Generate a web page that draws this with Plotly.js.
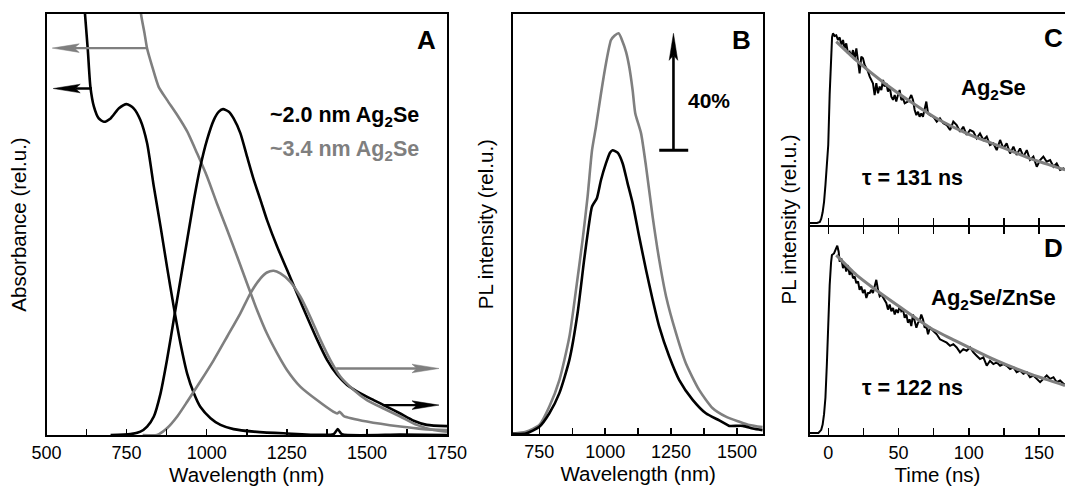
<!DOCTYPE html>
<html><head><meta charset="utf-8">
<script src="https://cdn.plot.ly/plotly-3.0.1.min.js"></script>
<style>html,body{margin:0;padding:0;background:#fff}#chart{width:1065px;height:489px}</style>
</head><body><div id="chart"></div><script>
// ---------- Panel A: absorbance + PL (arbitrary units 0-100) ----------
const absSmallWl = [615,629,637,648,663,679,700,726,750,772,793,814,835,856,876,897,918,939,960,980,1012,1043,1084,1147,1240,1396,1409,1422,1604,1750];
const absSmallVal = [105,91.4,82.7,78.0,75.2,74.4,75.2,77.6,78.6,77.6,74.8,69.3,59.0,49.5,40.0,30.5,21.8,14.6,9.9,6.7,4.0,2.4,1.4,0.8,0.4,0.2,1.4,0.2,0.1,0];
const absLargeWl = [790,795,806,814,830,850,876,908,939,970,1001,1032,1064,1095,1126,1157,1188,1220,1251,1292,1344,1396,1407,1415,1428,1500,1604,1677,1750];
const absLargeVal = [106,100,95.4,91.8,87.5,82.7,79.6,76.0,72.1,66.9,61.4,55.0,48.7,42.4,36.0,29.7,24.1,19.4,15.4,11.5,8.3,5.5,5.1,5.5,4.5,3.2,2.0,1.4,1.2];
const plSmallAWl = [700,762,793,814,835,856,876,897,918,939,960,980,1001,1022,1038,1051,1069,1084,1105,1126,1147,1168,1188,1220,1251,1282,1313,1345,1376,1407,1438,1480,1521,1563,1604,1646,1687,1750];
const plSmallAVal = [0,0.2,0.8,2.0,4.4,9.9,17.8,27.3,36.8,46.3,55.8,63.7,70.1,74.8,76.8,77.4,76.8,75.2,71.7,66.1,60.6,55.8,51.1,44.7,39.2,33.6,28.1,22.6,17.8,14.3,11.9,9.9,8.3,6.7,5.1,3.4,2.4,2.1];
const plLargeAWl = [800,845,876,908,939,980,1022,1064,1105,1136,1168,1188,1209,1230,1261,1292,1323,1355,1386,1417,1459,1500,1552,1604,1656,1708,1750];
const plLargeAVal = [0,0,1.6,4.4,7.9,12.7,17.8,23.4,28.9,33.6,37.2,38.6,39.0,38.4,36.4,32.9,28.1,22.6,17.8,13.9,10.7,8.3,6.3,4.4,2.4,1.2,0.8];

// ---------- Panel B: PL intensity ----------
const plCoreWl = [649,699,750,788,826,864,895,920,937,950,968,984,1003,1018,1028,1047,1066,1085,1104,1129,1155,1180,1205,1243,1281,1332,1382,1433,1465,1471,1522,1560,1597];
const plCoreVal = [0.1,0.2,1.8,5.0,9.8,17.7,28.8,41.5,49.4,54.2,56.1,60.5,64.5,67.0,67.6,67.0,64.5,59.7,55.0,47.0,39.1,32.0,25.6,18.5,12.9,8.2,5.0,3.3,2.2,2.0,2.0,1.4,1.0];
const plShellWl = [649,699,750,788,826,864,889,914,933,950,965,984,1003,1022,1035,1051,1066,1079,1091,1104,1114,1136,1155,1180,1205,1231,1269,1306,1357,1408,1458,1509,1547,1597];
const plShellVal = [0.2,0.6,2.2,6.6,12.9,23.2,34.3,46.2,56.5,67.6,73.2,81.1,88.3,93.8,94.8,95.4,93.4,91.0,87.5,81.9,76.4,71.6,63.7,51.8,41.5,32.8,24.0,16.9,10.5,6.2,4.2,3.0,2.2,1.7];

// ---------- Panel C: Ag2Se decay ----------
const decayCT = [-13,-8,-6,-5,-4,-3,-2,-1,0,1,2,2.7,3.35,4.5,5.7,6.9,8.1,9.3,10.5,11.6,12.8,14.0,15.2,16.4,17.6,18.8,20.0,21.2,22.3,23.5,24.7,25.9,27.1,28.3,29.5,30.6,31.8,33.0,34.2,35.4,36.6,37.8,39.0,40.1,41.3,42.5,43.7,44.9,46.1,47.3,48.4,49.6,50.8,52.0,53.2,54.4,56.7,57.9,59.1,60.3,61.5,62.7,63.9,65.0,66.2,67.4,68.6,69.8,71.0,72.4,74.8,77.2,79.5,81.9,84.3,86.7,89.0,91.4,93.8,96.1,98.5,100.9,103.3,105.6,108.0,110.4,112.8,115.1,117.5,119.9,122.3,124.6,127.0,129.4,131.8,134.1,136.5,138.9,141.3,143.6,146.0,148.4,150.8,153.1,155.5,157.9,160.3,162.6,165.0,167.4,169];
const decayCVal = [1,1,1.5,3,6,11,19,30,38,62,82,89,90.8,89.6,89.9,87.7,88.9,85.3,87.7,83.7,86.1,81.4,82.1,79.8,82.9,79.0,83.7,76.6,71.9,79.8,79.0,75.8,74.3,72.7,70.3,68.7,67.2,61.6,67.2,62.4,65.6,64.0,68.7,65.6,67.2,63.2,65.6,60.8,59.3,61.6,58.5,61.6,64.0,59.3,60.0,57.7,58.5,60.0,61.6,59.3,54.5,52.1,53.7,51.3,52.9,51.3,54.5,58.5,52.9,52.1,51.3,49.0,50.6,48.2,47.4,45.0,49.0,47.4,44.2,46.6,42.7,45.0,44.2,41.1,43.4,40.3,41.9,37.9,38.7,35.5,40.3,36.3,38.7,33.9,37.1,33.2,36.3,32.4,35.5,30.8,32.4,27.6,30.8,32.4,30.0,30.8,27.6,29.2,26.1,26.8,26.0];
const fitCT = [5.7,20,40,60,76.9,100,119.9,145,168.5];
const fitCVal = [86.9,78.0,67.2,57.8,50.6,43.0,37.9,31.2,26.1];

// ---------- Panel D: Ag2Se/ZnSe decay ----------
const decayDT = [-13,-7,-5,-4,-3,-2,-1,0,1,2,2.6,4.1,5.0,6.4,7.4,8.1,9.3,10.5,11.6,12.8,14.0,15.2,16.4,17.6,18.8,20.0,21.2,22.3,23.5,24.7,25.9,27.1,28.3,29.5,30.6,31.8,33.0,34.2,35.4,36.6,37.8,39.0,40.1,41.3,42.5,43.7,44.9,46.1,47.3,48.4,49.6,50.8,52.0,53.2,54.4,55.6,56.7,57.9,59.1,60.3,61.5,62.7,63.9,65.0,66.2,67.4,68.6,69.8,71.0,72.4,74.8,77.2,79.5,81.9,84.3,86.7,89.0,91.4,93.8,96.1,98.5,100.9,103.3,105.6,108.0,110.4,112.8,115.1,117.5,119.9,122.3,124.6,127.0,129.4,131.8,134.1,136.5,138.9,141.3,143.6,146.0,148.4,150.8,153.1,155.5,157.9,160.3,162.6,165.0,167.4,169];
const decayDVal = [1,1,2.5,5,10,18,34,55,72,83,86.5,87.3,88.9,91.0,88.1,83.3,84.9,80.2,82.5,78.6,81.7,77.0,79.4,75.4,76.2,73.0,73.8,69.8,71.4,68.3,69.8,65.9,68.3,68.3,69.8,68.3,71.4,74.6,69.8,66.7,67.5,65.9,65.1,63.5,60.3,62.7,59.5,61.1,57.9,60.3,58.7,61.9,59.5,60.3,56.3,57.9,54.0,55.6,52.4,57.9,54.8,51.6,54.0,54.8,57.9,55.6,51.6,52.4,48.4,51.6,50.0,48.4,46.0,45.2,44.4,42.9,43.7,42.1,39.7,41.3,40.5,42.1,39.7,38.1,36.5,37.3,33.3,35.7,34.1,34.9,33.3,34.1,33.3,31.7,32.5,30.2,31.0,29.4,30.2,27.8,28.6,27.0,25.4,27.0,28.6,27.0,27.8,25.4,26.2,24.6,24.2];
const fitDT = [5.7,20,33,50,72.4,90,119.9,145,168.5];
const fitDVal = [86.5,77.0,70.2,62.0,51.6,45.5,35.7,29.0,23.8];

// ticks
const ticksA = [500,750,1000,1250,1500,1750];
const minorA = [625,875,1125,1375,1625];
const ticksB = [750,1000,1250,1500];
const minorB = [875,1125,1375];
const ticksT = [0,50,100,150];
const minorT = [25,75,125];

// arrows (tail -> head, data units)
const arrowsA = [
  {x0:813, y0:91.9, x1:518, y1:91.9, c:'gray'},
  {x0:642, y0:82.3, x1:521, y1:82.3, c:'black'},
  {x0:1404, y0:15.8, x1:1725, y1:15.8, c:'gray'},
  {x0:1549, y0:7.1, x1:1725, y1:7.1, c:'black'}
];
const arrowB = {x0:1259, y0:67.6, x1:1259, y1:95.4, barL:1205, barR:1315};

const BLACK = '#000000', GRAY = '#7f7f7f';
const FONT = 'Liberation Sans, Arial, Helvetica, sans-serif';
const W = 1065, H = 489;
const colorOf = c => c === 'gray' ? GRAY : BLACK;

// pixel geometry of the panels
const pA = {l:46.5, r:447, t:14, b:435};
const pB = {l:513, r:763.3, t:14, b:434.3};
const pC = {l:810, r:1065, t:14, b:225};
const pD = {l:810, r:1065, t:227, b:435};
const dx = p => [p.l/W, p.r/W];
const dy = p => [(H-p.b)/H, (H-p.t)/H];

const rangeA = [500,1750], rangeB = [650,1600], rangeT = [-13,168.5], rangeY = [0,100];

function line(x, y, xa, ya, color, width, shape) {
  return {type:'scatter', mode:'lines', x, y, xaxis:xa, yaxis:ya,
    line:{color, width, shape: shape||'linear', smoothing:0.6}, hoverinfo:'skip'};
}

const traces = [
  line(absSmallWl, absSmallVal, 'x', 'y', BLACK, 2.6, 'spline'),
  line(absLargeWl, absLargeVal, 'x', 'y', GRAY, 2.6, 'spline'),
  line(plSmallAWl, plSmallAVal, 'x', 'y', BLACK, 2.6, 'spline'),
  line(plLargeAWl, plLargeAVal, 'x', 'y', GRAY, 2.6, 'spline'),
  line(plShellWl, plShellVal, 'x2', 'y2', GRAY, 2.6, 'spline'),
  line(plCoreWl, plCoreVal, 'x2', 'y2', BLACK, 2.6, 'spline'),
  line(decayCT, decayCVal, 'x3', 'y3', BLACK, 2),
  line(fitCT, fitCVal, 'x3', 'y3', GRAY, 3, 'spline'),
  line(decayDT, decayDVal, 'x4', 'y4', BLACK, 2),
  line(fitDT, fitDVal, 'x4', 'y4', GRAY, 3, 'spline')
];

// arrow shapes built from data positions
function arrowShapes(a, xref, yref, p, xr, yr, color, lw) {
  const sx = (p.r-p.l)/(xr[1]-xr[0]), sy = (p.b-p.t)/(yr[1]-yr[0]);
  const dxp = (a.x1-a.x0)*sx, dyp = (a.y1-a.y0)*sy;
  const len = Math.hypot(dxp, dyp), ux = dxp/len, uy = dyp/len, nx = -uy, ny = ux;
  const L = 27, Wd = 4.3, notch = 5;
  const pt = (along, side) => [a.x1 + (-ux*along + nx*side)/sx, a.y1 + (-uy*along + ny*side)/sy];
  const p1 = pt(L, Wd), p2 = pt(L-notch, 0), p3 = pt(L, -Wd);
  return [
    {type:'line', xref, yref, x0:a.x0, y0:a.y0, x1:p2[0], y1:p2[1], line:{color, width:lw}},
    {type:'path', xref, yref, path:`M ${a.x1},${a.y1} L ${p1[0]},${p1[1]} L ${p2[0]},${p2[1]} L ${p3[0]},${p3[1]} Z`,
      fillcolor:color, line:{color, width:0.5}}
  ];
}
let shapes = [];
arrowsA.forEach(a => { shapes = shapes.concat(arrowShapes(a, 'x', 'y', pA, rangeA, rangeY, colorOf(a.c), 2.4)); });
shapes = shapes.concat(arrowShapes(arrowB, 'x2', 'y2', pB, rangeB, rangeY, BLACK, 2.6));
shapes.push({type:'line', xref:'x2', yref:'y2', x0:arrowB.barL, x1:arrowB.barR, y0:arrowB.y0, y1:arrowB.y0, line:{color:BLACK, width:3}});

const tickFont = {family:FONT, size:18, color:BLACK};
const titleFont = {family:FONT, size:20.5, color:BLACK};
function xAxis(p, range, tv, mv, anchor, extra) {
  return Object.assign({domain:dx(p), range, anchor, showline:true, linecolor:BLACK, linewidth:2,
    showgrid:false, zeroline:false, ticks:'inside', ticklen:6, tickwidth:1.5, tickcolor:BLACK,
    tickmode:'array', tickvals:tv, ticktext:tv.map(String), tickfont:tickFont, mirror:true,
    minor:{tickmode:'array', tickvals:mv, ticks:'inside', ticklen:6, tickwidth:1.5, tickcolor:BLACK, showgrid:false},
    automargin:false, fixedrange:true}, extra||{});
}
function yAxis(p, anchor, mirror, title) {
  const ax = {domain:dy(p), range:rangeY, anchor, showline:true, linecolor:BLACK, linewidth:2,
    showgrid:false, zeroline:false, ticks:'', showticklabels:false, mirror, automargin:false, fixedrange:true};
  if (title) ax.title = {text:title, font:titleFont, standoff:12};
  return ax;
}

const ann = (text, xp, yp, size, color, opts) => Object.assign({
  text, x:xp/W, y:(H-yp)/H, xref:'paper', yref:'paper', showarrow:false,
  xanchor:'center', yanchor:'middle', font:{family:FONT, size, color}}, opts||{});
const bold = s => '<b>' + s + '</b>';

const annotations = [
  ann(bold('A'), 438, 39.5, 26, BLACK, {xanchor:'right'}),
  ann(bold('B'), 753, 40.5, 26, BLACK, {xanchor:'right'}),
  ann(bold('C'), 1065, 37.5, 26, BLACK, {xanchor:'right'}),
  ann(bold('D'), 1065, 248, 26, BLACK, {xanchor:'right'}),
  ann(bold('~2.0 nm Ag<sub>2</sub>Se'), 421, 116, 21.5, BLACK, {xanchor:'right'}),
  ann(bold('~3.4 nm Ag<sub>2</sub>Se'), 421, 150, 21.5, GRAY, {xanchor:'right'}),
  ann(bold('40%'), 709, 100, 21, BLACK),
  ann(bold('Ag<sub>2</sub>Se'), 993, 89, 22, BLACK),
  ann(bold('τ = 131 ns'), 912, 178, 21.5, BLACK),
  ann(bold('Ag<sub>2</sub>Se/ZnSe'), 993, 299, 22, BLACK),
  ann(bold('τ = 122 ns'), 912, 388, 21.5, BLACK),
  ann('PL intensity (rel.u.)', 787.5, 220, 20.5, BLACK, {textangle:-90})
];

const xTitle = t => ({text:t, font:titleFont, standoff:4});
const minorT7 = {tickmode:'array', tickvals:minorT, ticks:'inside', ticklen:7, tickwidth:1.5, tickcolor:BLACK};

const layout = {
  width:W, height:H, margin:{l:0, r:0, t:0, b:0}, showlegend:false,
  paper_bgcolor:'#fff', plot_bgcolor:'#fff', font:{family:FONT, color:BLACK},
  xaxis: xAxis(pA, rangeA, ticksA, minorA, 'y', {title:xTitle('Wavelength (nm)')}),
  yaxis: yAxis(pA, 'x', true, 'Absorbance (rel.u.)'),
  xaxis2: xAxis(pB, rangeB, ticksB, minorB, 'y2', {title:xTitle('Wavelength (nm)')}),
  yaxis2: yAxis(pB, 'x2', true, 'PL intensity (rel.u.)'),
  xaxis3: xAxis(pC, rangeT, ticksT, minorT, 'y3', {showticklabels:false, ticklen:7, minor:minorT7}),
  yaxis3: yAxis(pC, 'x3', false),
  xaxis4: xAxis(pD, rangeT, ticksT, minorT, 'y4', {mirror:'ticks', ticklen:7, title:xTitle('Time (ns)'), minor:minorT7}),
  yaxis4: yAxis(pD, 'x4', false),
  shapes, annotations
};

Plotly.newPlot('chart', traces, layout, {displayModeBar:false, staticPlot:true});
</script></body></html>
